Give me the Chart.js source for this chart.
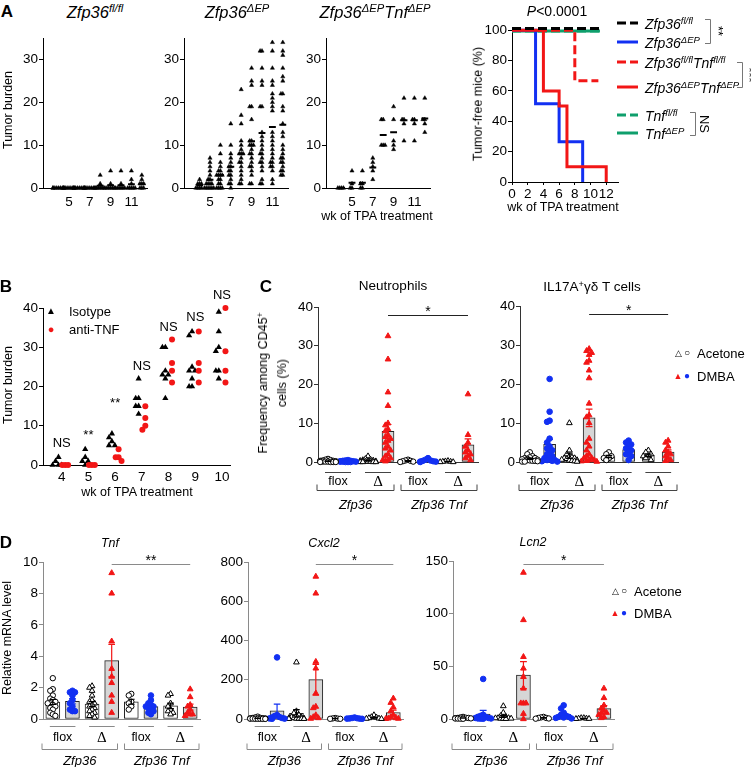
<!DOCTYPE html>
<html lang="en">
<head>
<meta charset="UTF-8">
<title>Zfp36 / Tnf tumor figure</title>
<script src="https://cdn.jsdelivr.net/npm/chart.js"></script>
<style>
  body { margin: 0; background: #fff; font-family: 'Liberation Sans', Arial, sans-serif; color: #000; }
  #fig { position: relative; width: 751px; height: 768px; overflow: hidden; background: #fff; }
  #fig canvas { position: absolute; }
  .t { position: absolute; white-space: nowrap; line-height: 1; }
  sup { font-size: 0.68em; vertical-align: 0.5em; line-height: 0; }
  svg.ov { position: absolute; left: 0; top: 0; }
</style>
</head>
<body>
<div id="fig"></div>
<script>
// ---------- A: tumor burden per week ----------
const weeksA = [4, 5, 6, 7, 8, 9, 10, 11, 12];
const weekTicksA = [5, 7, 9, 11];
const burdenTicksA = [0, 10, 20, 30];
const burdenFlox = [
  [0, 0, 0, 0, 0, 0, 0, 0], [0, 0, 0, 0, 0, 0, 0, 0], [0, 0, 0, 0, 0, 0, 0, 0],
  [0, 0, 0, 0, 0, 0, 0, 0], [3, 1, 0, 0, 0, 0, 0, 0], [4, 1, 0, 0, 0, 0, 0, 0],
  [4, 1, 0, 0, 0, 0, 0, 0], [4, 2, 1, 0, 0, 0, 0, 0], [3, 2, 1, 1, 1, 0, 0, 0]
];
const burdenDeltaEP = [
  [2, 1, 1, 1, 0, 0, 0, 0],
  [7, 6, 5, 4, 3, 2, 2, 1, 1, 1, 1, 0, 0, 0, 0, 0, 0],
  [10, 8, 6, 5, 4, 4, 3, 3, 3, 3, 2, 2, 1, 1, 0, 0, 0, 0],
  [15, 10, 8, 7, 6, 5, 5, 4, 4, 3, 3, 2, 1, 1, 0],
  [23, 17, 15, 11, 10, 9, 8, 8, 8, 7, 6, 6, 5, 4, 3, 2, 1, 1],
  [28, 25, 24, 19, 19, 16, 11, 11, 10, 10, 10, 9, 8, 8, 7, 6, 5, 5, 4, 3, 1, 1],
  [32, 32, 28, 25, 24, 19, 19, 13, 12, 11, 10, 9, 8, 8, 7, 6, 6, 5, 4, 2, 1, 1],
  [34, 32, 28, 25, 24, 22, 21, 20, 19, 18, 13, 12, 11, 10, 9, 8, 7, 6, 6, 5, 5, 4, 2, 1],
  [34, 32, 31, 28, 26, 25, 22, 22, 19, 18, 15, 13, 12, 10, 9, 8, 7, 7, 6, 6, 5, 4, 4, 3, 3]
];
const burdenDoubleEP = [
  [0, 0, 0, 0], [4, 1, 0, 0], [4, 1, 1, 0, 0], [7, 6, 5, 4, 2], [16, 16, 10, 10, 10],
  [19, 16, 11, 10, 9], [21, 16, 16, 15, 11], [21, 16, 16, 15, 11], [21, 16, 16, 15, 13]
];

// ---------- A: tumor-free survival ----------
const kmTicksX = [0, 2, 4, 6, 8, 10, 12];
const kmTicksY = [0, 20, 40, 60, 80, 100];
const kmFloxT = [0, 11.2], kmFloxV = [101, 101];
const kmDeltaT = [0, 3, 6, 9], kmDeltaV = [100, 51.5, 26.5, 0];
const kmDblFloxT = [0, 8, 11], kmDblFloxV = [100, 66.7, 66.7];
const kmDblDeltaT = [0, 4, 6, 7, 12], kmDblDeltaV = [100, 60, 50, 10, 0];
const kmTnfFloxT = [0, 11.2], kmTnfFloxV = [99.5, 99.5];
const kmTnfDeltaT = [0, 11.2], kmTnfDeltaV = [99.5, 99.5];

// ---------- B: isotype vs anti-TNF ----------
const bWeeks = [4, 5, 6, 7, 8, 9, 10];
const bTicksY = [0, 10, 20, 30, 40];
const bIsotype = [
  [2, 1, 0, 0, 0], [4, 2, 1, 1, 0], [8, 7, 6, 5, 5], [22, 17, 17, 15, 15, 13],
  [30, 30, 24, 23, 23, 22, 17], [34, 33, 25, 24, 24, 22, 20, 20], [39, 34, 30, 29, 24, 24, 22]
];
const bAntiTnf = [
  [0, 0, 0], [0, 0, 0], [4, 2, 2, 1], [15, 12, 10, 9], [32, 26, 24, 21], [34, 26, 24, 21], [40, 29, 24, 21]
];
const bSig = ['NS', '**', '**', 'NS', 'NS', 'NS', 'NS'];
const bSigY = [5.6, 7.5, 15.7, 25.2, 35, 37.5, 43.2];

// ---------- C / D groups ----------
const cdTreatment = ['Acetone', 'DMBA', 'Acetone', 'DMBA', 'Acetone', 'DMBA', 'Acetone', 'DMBA'];
const cdAllele = ['flox', 'flox', 'Δ', 'Δ', 'flox', 'flox', 'Δ', 'Δ'];
const alleleLabels = ['flox', 'Δ', 'flox', 'Δ'];
const genotypeLabels = ['Zfp36', 'Zfp36 Tnf'];

const neutrophils = [
  [0.8, 0.6, 0.5, 0.4, 0.3, 0.3, 0.2, 0.2, 0.1, 0.1, 0.1, 0, 0, 0, 0],
  [0.5, 0.4, 0.3, 0.3, 0.2, 0.2, 0.1, 0.1, 0.1, 0, 0, 0],
  [1.5, 0.8, 0.6, 0.5, 0.4, 0.3, 0.3, 0.2, 0.2, 0.1, 0.1, 0.1, 0, 0, 0, 0],
  [32.5, 26.5, 18, 14.5, 10, 9.5, 8.5, 8, 7, 6.5, 6, 5.5, 5, 4, 3.5, 3, 2, 1.5, 1, 0.5, 0.5, 0.2],
  [0.6, 0.4, 0.3, 0.2, 0.1, 0],
  [1, 0.6, 0.4, 0.3, 0.2, 0.1, 0.1, 0],
  [0.3, 0.2, 0.1, 0.1, 0, 0],
  [17.5, 7, 5, 4, 3, 2.5, 2, 1.5, 1, 0.5]
];
const il17Cells = [
  [2.5, 2, 1.5, 1.2, 1, 1, 0.8, 0.7, 0.6, 0.5, 0.4, 0.3, 0.3, 0.2, 0.1, 0.1],
  [21.3, 12.9, 10.6, 10.3, 6, 5, 4, 3.5, 3, 2.5, 2, 1.5, 1, 1, 0.5, 0.5, 0.3, 0.2, 0.1],
  [10, 3, 2, 1.5, 1.2, 1, 1, 0.8, 0.6, 0.5, 0.4, 0.3, 0.2, 0.1],
  [29, 28.5, 28, 27.5, 26, 25.5, 23.5, 21.5, 15, 12, 11.5, 10, 6, 5, 4, 3, 2, 1.5, 1, 1, 0.5, 0.5, 0.3, 0.2, 0.1],
  [2.5, 2, 1.5, 1, 1, 0.5],
  [5.5, 5, 4.5, 4, 3.5, 3, 2.5, 2, 1.5, 0.5],
  [3, 2.5, 2, 1.5, 1.5, 1, 0.5],
  [5.5, 5, 4, 3, 2.5, 2, 1.5, 1, 0.5, 0.3]
];
const tnfMrna = [
  [2.6, 1.9, 1.8, 1.5, 1.3, 1.2, 1.1, 1.0, 1.0, 0.9, 0.8, 0.7, 0.6, 0.4, 0.3, 0.2],
  [1.8, 1.7, 1.7, 1.5, 1.2, 1.0, 0.8, 0.6, 0.5, 0.5],
  [2.1, 2.0, 1.8, 1.5, 1.2, 1.1, 1.0, 0.9, 0.8, 0.7, 0.6, 0.5, 0.4, 0.3, 0.2, 0.1],
  [9.3, 8.0, 4.95, 3.2, 2.7, 2.3, 1.5, 1.1, 0.4],
  [1.6, 1.5, 1.1, 1.0, 0.8, 0.6],
  [1.5, 1.2, 1.0, 0.9, 0.8, 0.8, 0.7, 0.6, 0.5, 0.4, 0.3],
  [1.6, 1.5, 1.0, 0.8, 0.6, 0.5, 0.4, 0.3],
  [1.9, 1.4, 0.9, 0.8, 0.6, 0.4, 0.3, 0.3, 0.2]
];
const cxcl2Mrna = [
  [12, 8, 6, 5, 4, 3, 3, 2, 2, 1, 1, 1, 0.5, 0.5],
  [314, 20, 15, 10, 8, 5, 3, 2, 1],
  [289, 40, 30, 20, 15, 10, 8, 5, 5, 3, 2, 2, 1, 1, 1],
  [726, 640, 292, 258, 131, 63, 56, 20, 10, 5, 2],
  [5, 3, 2, 1, 1],
  [8, 5, 4, 3, 2, 2, 1],
  [20, 10, 8, 5, 3, 2, 1],
  [105, 83, 60, 40, 20, 10, 5, 3, 2, 1]
];
const lcn2Mrna = [
  [2, 1.5, 1.2, 1, 1, 0.8, 0.6, 0.5, 0.4, 0.3, 0.2],
  [38, 4, 3, 2, 2, 1, 1, 0.5, 0.5, 0.3, 0.2],
  [12.3, 6, 3, 2, 1.5, 1, 1, 0.8, 0.5, 0.4, 0.3, 0.2],
  [139, 94, 59, 48, 40, 29, 15, 15, 15, 5, 0],
  [2, 1.5, 1, 1, 0.5, 0.3],
  [13, 10, 6, 4, 3, 2, 2, 1.5, 1, 0.5],
  [1, 1, 0.5, 0.5, 0.3, 0.2],
  [29, 20, 13, 10, 8, 6, 5.6, 4, 2, 1]
];

// ---------- helpers ----------
const FONT = "'Liberation Sans', Arial, sans-serif";
const SERIF = "'Liberation Serif', 'DejaVu Serif', serif";
const RED = '#f21616', BLUE = '#1230f2', GREEN = '#0f9f6c', BAR_GREY = '#d6d6d6';
Chart.defaults.font.family = FONT;
Chart.defaults.color = '#000';
Chart.defaults.animation = false;
Chart.defaults.responsive = false;

const fig = document.getElementById('fig');
const mean = a => a.reduce((s, v) => s + v, 0) / a.length;
const sem = a => {
  const m = mean(a);
  return Math.sqrt(a.reduce((s, v) => s + (v - m) ** 2, 0) / (a.length - 1) / a.length);
};

// spread equal-ish values sideways so they don't sit on top of each other
function swarm(vals, cx, step, tol, maxSlot) {
  const placed = [];
  [...vals].sort((a, b) => b - a).forEach(v => {
    let slot = null;
    for (let k = 0; k <= 2 * maxSlot; k++) {
      const s = k === 0 ? 0 : (k % 2 ? -(k + 1) / 2 : k / 2);
      if (!placed.some(p => p.s === s && Math.abs(p.v - v) < tol)) { slot = s; break; }
    }
    if (slot === null) slot = (placed.length % (2 * maxSlot + 1)) - maxSlot;
    placed.push({ s: slot, v });
  });
  return placed.map(p => ({ x: cx + p.s * step, y: p.v }));
}

function txt(html, x, y, style, transform) {
  const d = document.createElement('div');
  d.className = 't';
  d.innerHTML = html;
  d.style.left = x + 'px';
  d.style.top = y + 'px';
  d.style.transform = transform || 'translate(-50%,-50%)';
  Object.assign(d.style, style || {});
  fig.appendChild(d);
}
const LEFT = 'translate(0,-50%)';
const ROT = 'translate(-50%,-50%) rotate(-90deg)';

function makeChart(area, o, datasets, plugins) {
  const p = o.pad;
  const c = document.createElement('canvas');
  c.width = area.r - area.l + p.yw + p.pr;
  c.height = area.b - area.t + p.pt + p.xh;
  c.style.left = (area.l - p.yw) + 'px';
  c.style.top = (area.t - p.pt) + 'px';
  fig.appendChild(c);
  const tickFont = { size: 13.5 };
  return new Chart(c, {
    type: o.type || 'scatter',
    data: { datasets },
    options: {
      layout: { padding: { top: p.pt, right: p.pr, left: 0, bottom: 0 }, autoPadding: false },
      scales: {
        x: {
          type: 'linear', min: o.xmin, max: o.xmax, offset: false,
          afterFit: s => { s.height = p.xh; },
          afterBuildTicks: s => { if (o.xticks) s.ticks = o.xticks.map(v => ({ value: v })); },
          ticks: { display: !!o.xticks, autoSkip: false, maxRotation: 0, padding: o.xpad || 4, font: tickFont },
          grid: { offset: false, drawOnChartArea: false, drawTicks: !!o.xtickLen, tickLength: o.xtickLen || 0, color: o.axis },
          border: { color: o.axis, width: 1 }
        },
        y: {
          type: 'linear', min: o.ymin, max: o.ymax,
          afterFit: s => { s.width = p.yw; },
          afterBuildTicks: s => { s.ticks = o.yticks.map(v => ({ value: v })); },
          ticks: { autoSkip: false, padding: 1, font: tickFont },
          grid: { drawOnChartArea: false, tickLength: 4, color: o.axis },
          border: { color: o.axis, width: 1 }
        }
      },
      plugins: { legend: { display: false }, tooltip: { enabled: false } }
    },
    plugins: plugins || []
  });
}
const unitsPerPx = (area, o) => (o.ymax - o.ymin) / (area.b - area.t);

// ---------- panel A: scatter of tumor burden ----------
function tumorPanel(area, groups) {
  const o = { xmin: 2.5, xmax: 12.5, ymin: 0, ymax: 35, xticks: weekTicksA, yticks: burdenTicksA,
              xpad: 6, axis: '#000', pad: { yw: 38, pt: 4, pr: 6, xh: 24 } };
  const tol = 4 * unitsPerPx(area, o);
  const pts = [], lines = [];
  groups.forEach((vals, i) => {
    const w = weeksA[i], m = mean(vals);
    pts.push(...swarm(vals, w, 0.18, tol, 3));
    lines.push({ x: w - 0.33, y: m }, { x: w + 0.33, y: m }, { x: w, y: null });
  });
  makeChart(area, o, [
    { type: 'line', data: lines, borderColor: '#000', borderWidth: 2, pointRadius: 0, clip: false },
    { data: pts, pointStyle: 'triangle', pointRadius: 2.4, backgroundColor: '#000', borderColor: '#000', borderWidth: 0.5, clip: false }
  ]);
}
tumorPanel({ l: 43, t: 33, r: 147, b: 188 }, burdenFlox);
tumorPanel({ l: 184, t: 33, r: 288, b: 188 }, burdenDeltaEP);
tumorPanel({ l: 326, t: 33, r: 430, b: 188 }, burdenDoubleEP);

// ---------- panel A: Kaplan-Meier ----------
const km = (t, v) => t.map((x, i) => ({ x, y: v[i] }));
const kmLine = (t, v, color, dashed) => ({
  type: 'line', data: km(t, v), borderColor: color, borderWidth: 3, borderDash: dashed ? [9, 4] : [],
  stepped: true, pointRadius: 0, clip: false, borderCapStyle: 'butt'
});
makeChart({ l: 512, t: 22, r: 618, b: 182 },
  { xmin: 0, xmax: 13.5, ymin: 0, ymax: 102, xticks: kmTicksX, yticks: kmTicksY, xtickLen: 3, xpad: 1,
    axis: '#000', pad: { yw: 40, pt: 4, pr: 4, xh: 24 } },
  [
    kmLine(kmFloxT, kmFloxV, '#000', true),
    kmLine(kmDblDeltaT, kmDblDeltaV, RED, false),
    kmLine(kmDeltaT, kmDeltaV, BLUE, false),
    kmLine(kmDblFloxT, kmDblFloxV, RED, true),
    kmLine(kmTnfFloxT, kmTnfFloxV, GREEN, true),
    kmLine(kmTnfDeltaT, kmTnfDeltaV, GREEN, false)
  ]);

// ---------- panel B ----------
const bSigPlugin = {
  id: 'bSig',
  afterDraw(chart) {
    const { ctx, scales: { x, y } } = chart;
    ctx.save();
    ctx.font = `13px ${FONT}`;
    ctx.textAlign = 'center';
    ctx.textBaseline = 'middle';
    ctx.fillStyle = '#000';
    bWeeks.forEach((w, i) => ctx.fillText(bSig[i], x.getPixelForValue(w), y.getPixelForValue(bSigY[i])));
    ctx.restore();
  }
};
(function () {
  const area = { l: 43, t: 308, r: 230, b: 465 };
  const o = { xmin: 3.3, xmax: 10.3, ymin: 0, ymax: 40, xticks: bWeeks, yticks: bTicksY, xpad: 4,
              axis: '#000', pad: { yw: 38, pt: 26, pr: 6, xh: 24 } };
  const tol = 4.5 * unitsPerPx(area, o);
  const iso = [], anti = [];
  bWeeks.forEach((w, i) => {
    iso.push(...swarm(bIsotype[i], w - 0.12, 0.11, tol, 2));
    anti.push(...swarm(bAntiTnf[i], w + 0.13, 0.11, tol, 2));
  });
  makeChart(area, o, [
    { data: anti, pointStyle: 'circle', pointRadius: 3, backgroundColor: RED, borderColor: RED, borderWidth: 0, clip: false },
    { data: iso, pointStyle: 'triangle', pointRadius: 3.6, backgroundColor: '#000', borderColor: '#000', borderWidth: 0, clip: false }
  ], [bSigPlugin]);
})();

// ---------- panels C and D: bars with points ----------
function genotypeAxis(o) {
  return {
    id: 'genotypeAxis',
    afterDraw(chart) {
      const { ctx, chartArea: ca, scales: { x, y } } = chart;
      const px = v => x.getPixelForValue(v);
      const seg = (x1, y1, x2, y2) => { ctx.beginPath(); ctx.moveTo(x1, y1); ctx.lineTo(x2, y2); ctx.stroke(); };
      ctx.save();
      ctx.lineWidth = 1;
      ctx.strokeStyle = o.lineColor;
      ctx.fillStyle = '#000';
      ctx.textAlign = 'center';
      ctx.textBaseline = 'middle';
      alleleLabels.forEach((lab, k) => {
        const a = px(2 * k) - 3, b = px(2 * k + 1) + 3, yl = Math.round(ca.bottom + o.dLine) + 0.5;
        seg(a, yl, b, yl);
        ctx.font = lab === 'Δ' ? `15px ${SERIF}` : `12.5px ${FONT}`;
        ctx.fillText(lab, (a + b) / 2, ca.bottom + o.dText);
      });
      genotypeLabels.forEach((lab, k) => {
        const a = px(4 * k - 0.5) + (k ? 3 : -1), b = px(4 * k + 3.5) - (k ? 1 : 4);
        const yb = Math.round(ca.bottom + o.dBracket) + 0.5;
        ctx.beginPath();
        ctx.moveTo(a, yb - 6); ctx.lineTo(a, yb); ctx.lineTo(b, yb); ctx.lineTo(b, yb - 6);
        ctx.stroke();
        ctx.font = `italic 13px ${FONT}`;
        ctx.fillText(lab, (a + b) / 2, ca.bottom + o.dGroup);
      });
      const ys = Math.round(y.getPixelForValue(o.sigAt)) + 0.5;
      ctx.strokeStyle = o.sigColor;
      seg(px(3), ys, px(7), ys);
      ctx.font = `14px ${FONT}`;
      ctx.fillText(o.sig, (px(3) + px(7)) / 2, ys - 3);
      ctx.restore();
    }
  };
}

function groupStyle(i) {
  const tri = cdAllele[i] === 'Δ';
  if (cdTreatment[i] === 'Acetone') {
    return { shape: tri ? 'triangle' : 'circle', r: tri ? 3.3 : 2.7, fill: '#fff', stroke: '#000', err: '#000', bar: '#fff' };
  }
  const col = tri ? RED : BLUE;
  return { shape: tri ? 'triangle' : 'circle', r: tri ? 3.3 : 2.8, fill: col, stroke: col, err: col, bar: BAR_GREY };
}

function expressionPanel(area, groups, o) {
  const tol = 4.5 * unitsPerPx(area, o);
  const ds = [];
  groups.forEach((vals, i) => {
    const m = mean(vals), e = sem(vals), st = groupStyle(i), cw = 0.17;
    ds.push({
      type: 'line', order: 1, borderColor: st.err, borderWidth: 1.2, pointRadius: 0, clip: false,
      data: [{ x: i, y: m - e }, { x: i, y: m + e }, { x: i, y: null },
             { x: i - cw, y: m + e }, { x: i + cw, y: m + e }, { x: i, y: null },
             { x: i - cw, y: m - e }, { x: i + cw, y: m - e }]
    });
  });
  groups.forEach((vals, i) => {
    const st = groupStyle(i);
    ds.push({ type: 'scatter', order: 2, data: swarm(vals, i, 0.13, tol, 3), pointStyle: st.shape,
              pointRadius: st.r, backgroundColor: st.fill, borderColor: st.stroke, borderWidth: 1, clip: false });
  });
  ds.push({
    type: 'bar', order: 3, data: groups.map((v, i) => ({ x: i, y: mean(v) })),
    backgroundColor: groups.map((v, i) => groupStyle(i).bar), borderColor: '#222', borderWidth: 1,
    borderSkipped: false, barThickness: o.barW, clip: false
  });
  makeChart(area, Object.assign({ type: 'bar', xmin: -0.5, xmax: 7.5 }, o), ds, [genotypeAxis(o)]);
}

const cStyle = { ymin: 0, ymax: 40, yticks: [0, 10, 20, 30, 40], axis: '#333', lineColor: '#444', sigColor: '#222',
                 barW: 12, sig: '*', sigAt: 38, dLine: 10, dText: 20, dBracket: 28, dGroup: 43,
                 pad: { yw: 38, pt: 20, pr: 4, xh: 52 } };
expressionPanel({ l: 318, t: 307, r: 478, b: 462 }, neutrophils, cStyle);
expressionPanel({ l: 520, t: 306, r: 678, b: 462 }, il17Cells, cStyle);

const dStyle = { ymin: 0, axis: '#8a8a8a', lineColor: '#8a8a8a', sigColor: '#8a8a8a', barW: 14,
                 dLine: 7, dText: 19, dBracket: 30, dGroup: 42, pad: { yw: 38, pt: 16, pr: 4, xh: 48 } };
expressionPanel({ l: 43, t: 562, r: 200, b: 719 }, tnfMrna,
  Object.assign({}, dStyle, { ymax: 10, yticks: [0, 2, 4, 6, 8, 10], sig: '**', sigAt: 9.9 }));
expressionPanel({ l: 248, t: 562, r: 403, b: 719 }, cxcl2Mrna,
  Object.assign({}, dStyle, { ymax: 800, yticks: [0, 200, 400, 600, 800], sig: '*', sigAt: 790 }));
expressionPanel({ l: 453, t: 561, r: 614, b: 719 }, lcn2Mrna,
  Object.assign({}, dStyle, { ymax: 150, yticks: [0, 50, 100, 150], sig: '*', sigAt: 147 }));

// ---------- text, legends, brackets ----------
const bold = { fontSize: '17px', fontWeight: 'bold' };
txt('A', 7, 11, bold);
txt('B', 6, 286, bold);
txt('C', 266, 286, bold);
txt('D', 6, 542, bold);

const ttl = { fontSize: '16.5px' };
txt('<i>Zfp36<sup>fl/fl</sup></i>', 95, 12, ttl);
txt('<i>Zfp36<sup>ΔEP</sup></i>', 237, 12, ttl);
txt('<i>Zfp36<sup>ΔEP</sup>Tnf<sup>ΔEP</sup></i>', 375, 12, ttl);
txt('<i>P</i>&lt;0.0001', 557, 11, { fontSize: '14px' });

const ax = { fontSize: '12.5px' };
txt('Tumor burden', 8, 110, ax, ROT);
txt('wk of TPA treatment', 377, 216, ax);
txt('Tumor-free mice (%)', 478, 104, ax, ROT);
txt('wk of TPA treatment', 563, 207, ax);
txt('Tumor burden', 8, 385, ax, ROT);
txt('wk of TPA treatment', 137, 492, ax);
txt('Frequency among CD45<sup>+</sup><br>cells (%)', 273, 383, { fontSize: '12.5px', textAlign: 'center', lineHeight: '19px' }, ROT);
txt('Relative mRNA level', 7, 638, ax, ROT);

txt('Neutrophils', 393, 286, { fontSize: '13.5px' });
txt('IL17A<sup>+</sup>γδ T cells', 592, 287, { fontSize: '13.5px' });
const dt = { fontSize: '12.5px', fontStyle: 'italic' };
txt('Tnf', 110, 543, dt);
txt('Cxcl2', 324, 543, dt);
txt('Lcn2', 533, 542, dt);

// B legend
txt('▲', 51, 311, { fontSize: '10px' });
txt('Isotype', 69, 311, { fontSize: '13px' }, LEFT);
txt('●', 51, 329, { fontSize: '11px', color: RED });
txt('anti-TNF', 69, 329, { fontSize: '13px' }, LEFT);

// C / D treatment legends
function treatLegend(x, y, gap) {
  txt('△', x, y, { fontSize: '9px' });
  txt('○', x + 9, y, { fontSize: '10px' });
  txt('Acetone', x + 19, y, { fontSize: '13px' }, LEFT);
  txt('▲', x, y + gap, { fontSize: '9px', color: RED });
  txt('●', x + 9, y + gap, { fontSize: '10px', color: BLUE });
  txt('DMBA', x + 19, y + gap, { fontSize: '13px' }, LEFT);
}
treatLegend(678, 353, 23);
treatLegend(615, 591, 22);

// Kaplan-Meier legend
const kmLegendLabels = [
  '<i>Zfp36<sup>fl/fl</sup></i>', '<i>Zfp36<sup>ΔEP</sup></i>',
  '<i>Zfp36<sup>fl/fl</sup>Tnf<sup>fl/fl</sup></i>', '<i>Zfp36<sup>ΔEP</sup>Tnf<sup>ΔEP</sup></i>',
  '<i>Tnf<sup>fl/fl</sup></i>', '<i>Tnf<sup>ΔEP</sup></i>'
];
const kmLegendColors = ['#000', BLUE, RED, RED, GREEN, GREEN];
const kmLegendDashed = [true, false, true, false, true, false];
const kmLegendRows = [23, 42, 62, 87, 115, 133];

const svgNS = 'http://www.w3.org/2000/svg';
const ov = document.createElementNS(svgNS, 'svg');
ov.setAttribute('class', 'ov');
ov.setAttribute('width', 751);
ov.setAttribute('height', 768);
fig.appendChild(ov);
function svgEl(tag, attrs) {
  const e = document.createElementNS(svgNS, tag);
  Object.entries(attrs).forEach(([k, v]) => e.setAttribute(k, v));
  ov.appendChild(e);
}
kmLegendLabels.forEach((lab, i) => {
  const y = kmLegendRows[i];
  svgEl('line', { x1: 617, y1: y, x2: 638, y2: y, stroke: kmLegendColors[i], 'stroke-width': 3,
                  'stroke-dasharray': kmLegendDashed[i] ? '9 4' : 'none' });
  txt(lab, 645, y + 1, { fontSize: '14px' }, LEFT);
});
function bracket(x, y1, y2, label, lx) {
  svgEl('polyline', { points: `${x - 5},${y1 + 0.5} ${x + 0.5},${y1 + 0.5} ${x + 0.5},${y2 + 0.5} ${x - 5},${y2 + 0.5}`,
                      fill: 'none', stroke: '#777', 'stroke-width': 1 });
  txt(label, lx, (y1 + y2) / 2, { fontSize: '13px' }, 'translate(-50%,-50%) rotate(90deg)');
}
bracket(710, 19, 43, '**', 718);
bracket(742, 62, 87, '***', 749);
bracket(695, 112, 135, 'NS', 704);
</script>
</body>
</html>
